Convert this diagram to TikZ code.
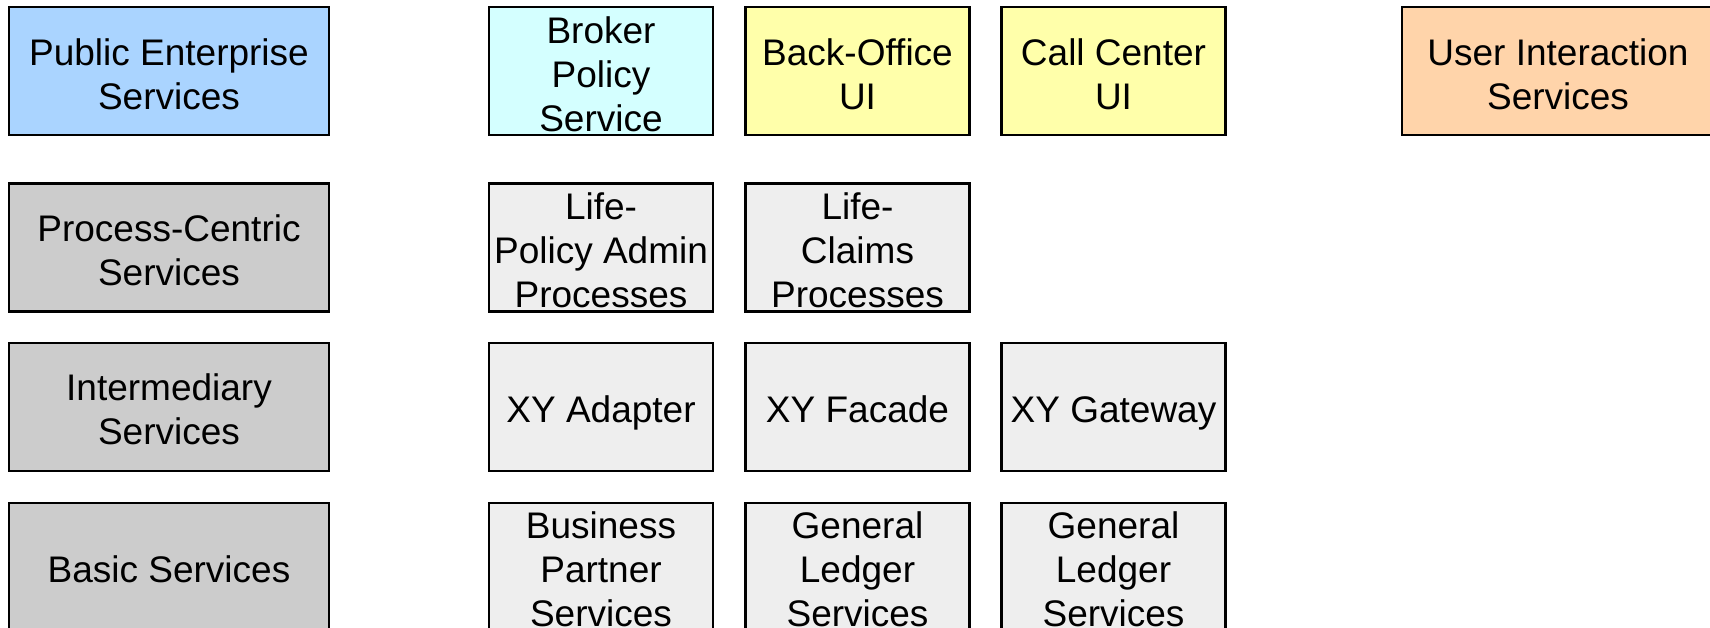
\documentclass[tikz,border=0pt]{standalone}
\usepackage{fontspec}
\setmainfont{Liberation Sans}
\definecolor{cblue}{HTML}{AAD4FF}
\definecolor{ccyan}{HTML}{D4FFFF}
\definecolor{cyellow}{HTML}{FFFFAA}
\definecolor{corange}{HTML}{FFD4AA}
\definecolor{cgray}{HTML}{CCCCCC}
\definecolor{clight}{HTML}{EEEEEE}
\newcommand{\topstrut}{\rule{0pt}{38pt}}
\newcommand{\botstrut}{\rule[-8pt]{0pt}{8pt}}
\begin{document}
\begin{tikzpicture}[x=1pt,y=-1pt,
  box/.style={draw=black, line width=2.2pt, inner sep=0pt, minimum height=128pt},
  wide/.style={box, minimum width=320pt},
  narrow/.style={box, minimum width=224pt},
  txt/.style={inner sep=0pt, align=center, font=\fontsize{37}{44}\selectfont, yshift=-2.4pt},
  txtone/.style={inner sep=0pt, align=center, font=\fontsize{37}{44}\selectfont,
    execute at begin node=\topstrut, execute at end node=\botstrut}]
\useasboundingbox (0,0) rectangle (1710,628);
\clip (0,0) rectangle (1710,628);
% row 1
\node[wide, fill=cblue] (pes) at (169,71.4) {};
\node[narrow, fill=ccyan] (bps) at (601,71.4) {};
\node[narrow, fill=cyellow] (boui) at (857.5,71.4) {};
\node[narrow, fill=cyellow] (ccui) at (1113.5,71.4) {};
\node[box, minimum width=312pt, fill=corange] (uis) at (1558,71.4) {};
% row 2
\node[wide, fill=cgray] (pcs) at (169,247.5) {};
\node[narrow, fill=clight] (lpa) at (601,247.5) {};
\node[narrow, fill=clight] (lcp) at (857.5,247.5) {};
% row 3
\node[wide, fill=cgray] (ims) at (169,407.3) {};
\node[narrow, fill=clight] (xya) at (601,407.3) {};
\node[narrow, fill=clight] (xyf) at (857.5,407.3) {};
\node[narrow, fill=clight] (xyg) at (1113.5,407.3) {};
% row 4
\node[wide, fill=cgray] (bas) at (169,567) {};
\node[narrow, fill=clight] (bps2) at (601,567) {};
\node[narrow, fill=clight] (gls1) at (857.5,567) {};
\node[narrow, fill=clight] (gls2) at (1113.5,567) {};
% texts
\node[txt] at (pes) {Public Enterprise\\Services};
\node[txt] at (bps) {Broker\\Policy\\Service};
\node[txt] at (boui) {Back-Office\\UI};
\node[txt] at (ccui) {Call Center\\UI};
\node[txt] at (uis) {User Interaction\\Services};
\node[txt] at (pcs) {Process-Centric\\Services};
\node[txt] at (lpa) {Life-\\Policy Admin\\Processes};
\node[txt] at (lcp) {Life-\\Claims\\Processes};
\node[txt] at (ims) {Intermediary\\Services};
\node[txtone] at (xya) {XY Adapter};
\node[txtone] at (xyf) {XY Facade};
\node[txtone] at (xyg) {XY Gateway};
\node[txtone] at (bas) {Basic Services};
\node[txt] at (bps2) {Business\\Partner\\Services};
\node[txt] at (gls1) {General\\Ledger\\Services};
\node[txt] at (gls2) {General\\Ledger\\Services};
\end{tikzpicture}
\end{document}
